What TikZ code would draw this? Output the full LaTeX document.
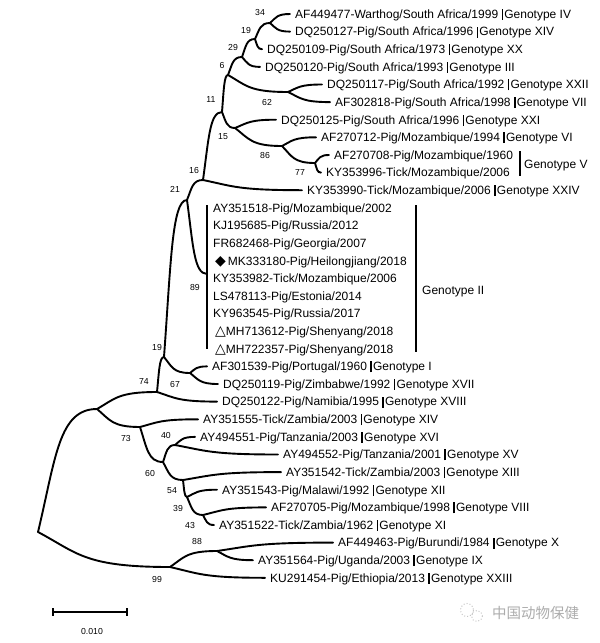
\documentclass[tikz,border=0pt]{standalone}
\usepackage{fontspec}
\setmainfont{Liberation Sans}
\newfontfamily\symf{DejaVu Sans}
\newfontfamily\cjk{Noto Sans CJK SC}
\usetikzlibrary{calc}
\newcommand\gb{\rule[-1.6pt]{1.6pt}{11pt}\hspace{1.2pt}}
\begin{document}
\begin{tikzpicture}[x=1pt,y=-1pt,
  br/.style={line width=1.9pt, line cap=round},
  cv/.style={to path={let \p1=(\tikztostart),\p2=(\tikztotarget) in .. controls ({\x1+0.3*(\x2-\x1)},{\y1+0.6*(\y2-\y1)}) and ({\x1+0.35*(\x2-\x1)},\y2) .. (\tikztotarget)}},
  lab/.style={anchor=west, inner xsep=5pt, inner ysep=0pt, text height=8.6pt, text depth=0pt, font=\fontsize{12}{14}\selectfont},
  cl/.style={lab, inner xsep=0pt},
  bs/.style={font=\fontsize{8.7}{10}\selectfont, inner sep=0pt},
  bar/.style={line width=1.8pt}
]
\useasboundingbox (0,0) rectangle (600,643);

% tip labels
\node[lab] (t1) at (290,14) {AF449477-Warthog/South Africa/1999 \gb Genotype IV};
\node[lab] (t2) at (290,31.6) {DQ250127-Pig/South Africa/1996 \gb Genotype XIV};
\node[lab] (t3) at (262,49.2) {DQ250109-Pig/South Africa/1973 \gb Genotype XX};
\node[lab] (t4) at (260,66.9) {DQ250120-Pig/South Africa/1993 \gb Genotype III};
\node[lab] (t5) at (322,84.5) {DQ250117-Pig/South Africa/1992 \gb Genotype XXII};
\node[lab] (t6) at (330,102.1) {AF302818-Pig/South Africa/1998 \gb Genotype VII};
\node[lab] (t7) at (276,119.7) {DQ250125-Pig/South Africa/1996 \gb Genotype XXI};
\node[lab] (t8) at (316,137.3) {AF270712-Pig/Mozambique/1994 \gb Genotype VI};
\node[lab] (t9) at (329,155) {AF270708-Pig/Mozambique/1960};
\node[lab] (t10) at (321,172.6) {KY353996-Tick/Mozambique/2006};
\node[lab] (t11) at (302,190.2) {KY353990-Tick/Mozambique/2006 \gb Genotype XXIV};
\node[cl] (t12) at (213,207.8) {AY351518-Pig/Mozambique/2002};
\node[cl] (t13) at (213,225.4) {KJ195685-Pig/Russia/2012};
\node[cl] (t14) at (213,243.1) {FR682468-Pig/Georgia/2007};
\node[cl] (t15) at (215,260.7) {{\symf\fontsize{14}{14}\selectfont ◆}\hspace{2pt}MK333180-Pig/Heilongjiang/2018};
\node[cl] (t16) at (213,278.3) {KY353982-Tick/Mozambique/2006};
\node[cl] (t17) at (213,295.9) {LS478113-Pig/Estonia/2014};
\node[cl] (t18) at (213,313.5) {KY963545-Pig/Russia/2017};
\node[cl] (t19) at (215,331.2) {{\symf\fontsize{14}{14}\selectfont △}MH713612-Pig/Shenyang/2018};
\node[cl] (t20) at (215,348.8) {{\symf\fontsize{14}{14}\selectfont △}MH722357-Pig/Shenyang/2018};
\node[lab] (t21) at (207,366.4) {AF301539-Pig/Portugal/1960 \gb Genotype I};
\node[lab] (t22) at (218,384) {DQ250119-Pig/Zimbabwe/1992 \gb Genotype XVII};
\node[lab] (t23) at (217,401.6) {DQ250122-Pig/Namibia/1995 \gb Genotype XVIII};
\node[lab] (t24) at (198,419.3) {AY351555-Tick/Zambia/2003 \gb Genotype XIV};
\node[lab] (t25) at (195,436.9) {AY494551-Pig/Tanzania/2003 \gb Genotype XVI};
\node[lab] (t26) at (278,454.5) {AY494552-Pig/Tanzania/2001 \gb Genotype XV};
\node[lab] (t27) at (281,472.1) {AY351542-Tick/Zambia/2003 \gb Genotype XIII};
\node[lab] (t28) at (217,489.7) {AY351543-Pig/Malawi/1992 \gb Genotype XII};
\node[lab] (t29) at (266,507.4) {AF270705-Pig/Mozambique/1998 \gb Genotype VIII};
\node[lab] (t30) at (214,525) {AY351522-Tick/Zambia/1962 \gb Genotype XI};
\node[lab] (t31) at (333,542.6) {AF449463-Pig/Burundi/1984 \gb Genotype X};
\node[lab] (t32) at (253,560.2) {AY351564-Pig/Uganda/2003 \gb Genotype IX};
\node[lab] (t33) at (265,577.8) {KU291454-Pig/Ethiopia/2013 \gb Genotype XXIII};

% group bars
\draw[bar] (520,151) -- (520,176);
\node[cl] (gV) at (524,164) {Genotype V};
\coordinate (c2a) at (207,205);
\coordinate (c2b) at (207,349);
\draw[bar] (c2a) -- (c2b);
\coordinate (c2) at (207,274);
\draw[bar] (416,205) -- (416,352);
\node[cl] (gII) at (422,290) {Genotype II};

% internal nodes
\coordinate (A) at (270,23);
\coordinate (B) at (255,39);
\coordinate (C) at (242,57);
\coordinate (D) at (228,75);
\coordinate (E) at (288,92);
\coordinate (F) at (222,112);
\coordinate (G) at (235,128);
\coordinate (H) at (282,146);
\coordinate (I) at (315,163);
\coordinate (J) at (203,180);
\coordinate (K) at (187,200);
\coordinate (M) at (164,357);
\coordinate (N) at (190,373);
\coordinate (O) at (157,392);
\coordinate (P) at (97,409);
\coordinate (Q) at (140,427);
\coordinate (R) at (163,462);
\coordinate (S) at (175,445);
\coordinate (T) at (183,480);
\coordinate (U) at (187,497);
\coordinate (V) at (203,515);
\coordinate (X) at (38,532);
\coordinate (Y) at (170,567);
\coordinate (Z) at (217,551);

% branches
\draw[br] (A) to[cv] (t1.west);
\draw[br] (A) to[cv] (t2.west);
\draw[br] (B) to[cv] (A);
\draw[br] (B) to[cv] (t3.west);
\draw[br] (C) to[cv] (B);
\draw[br] (C) to[cv] (t4.west);
\draw[br] (D) to[cv] (C);
\draw[br] (D) to[cv] (E);
\draw[br] (E) to[cv] (t5.west);
\draw[br] (E) to[cv] (t6.west);
\draw[br] (F) to[cv] (D);
\draw[br] (F) to[cv] (G);
\draw[br] (G) to[cv] (t7.west);
\draw[br] (G) to[cv] (H);
\draw[br] (H) to[cv] (t8.west);
\draw[br] (H) to[cv] (I);
\draw[br] (I) to[cv] (t9.west);
\draw[br] (I) to[cv] (t10.west);
\draw[br] (J) to[cv] (F);
\draw[br] (J) to[cv] (t11.west);
\draw[br] (K) to[cv] (J);
\draw[br] (K) to[cv] (c2);
\draw[br] (M) to[cv] (K);
\draw[br] (M) to[cv] (N);
\draw[br] (N) to[cv] (t21.west);
\draw[br] (N) to[cv] (t22.west);
\draw[br] (O) to[cv] (M);
\draw[br] (O) to[cv] (t23.west);
\draw[br] (P) to[cv] (O);
\draw[br] (P) to[cv] (Q);
\draw[br] (Q) to[cv] (t24.west);
\draw[br] (Q) to[cv] (R);
\draw[br] (R) to[cv] (S);
\draw[br] (R) to[cv] (T);
\draw[br] (S) to[cv] (t25.west);
\draw[br] (S) to[cv] (t26.west);
\draw[br] (T) to[cv] (t27.west);
\draw[br] (T) to[cv] (U);
\draw[br] (U) to[cv] (t28.west);
\draw[br] (U) to[cv] (V);
\draw[br] (V) to[cv] (t29.west);
\draw[br] (V) to[cv] (t30.west);
\draw[br] (X) to[cv] (P);
\draw[br] (X) to[cv] (Y);
\draw[br] (Y) to[cv] (Z);
\draw[br] (Y) to[cv] (t33.west);
\draw[br] (Z) to[cv] (t31.west);
\draw[br] (Z) to[cv] (t32.west);

% bootstrap values
\node[bs] (b1) at (260,13) {34};
\node[bs] (b2) at (246,31) {19};
\node[bs] (b3) at (233,48) {29};
\node[bs] (b4) at (222,66) {6};
\node[bs] (b5) at (267,103) {62};
\node[bs] (b6) at (211,100) {11};
\node[bs] (b7) at (223,137) {15};
\node[bs] (b8) at (265,156) {86};
\node[bs] (b9) at (300,173) {77};
\node[bs] (b10) at (194,171) {16};
\node[bs] (b11) at (175,189) {21};
\node[bs] (b12) at (195,288) {89};
\node[bs] (b13) at (157,347) {19};
\node[bs] (b14) at (144,382) {74};
\node[bs] (b15) at (175,384) {67};
\node[bs] (b16) at (126,438) {73};
\node[bs] (b17) at (166,435) {40};
\node[bs] (b18) at (150,473) {60};
\node[bs] (b19) at (172,491) {54};
\node[bs] (b20) at (178,508) {39};
\node[bs] (b21) at (190,525) {43};
\node[bs] (b22) at (197,541) {88};
\node[bs] (b23) at (157,579) {99};

% scale bar
\coordinate (s1) at (53,612);
\coordinate (s2) at (127,612);
\draw[line width=1.1pt] (s1) -- (s2);
\draw[line width=1.1pt] ($(s1)+(0,-4)$) -- ($(s1)+(0,4)$);
\draw[line width=1.1pt] ($(s2)+(0,-4)$) -- ($(s2)+(0,4)$);
\node[bs] (sl) at (92,631) {0.010};

% watermark
\draw[gray!45, dotted, line width=1pt] (467,610) circle (6.5);
\draw[gray!45, dotted, line width=1pt] (477,616) circle (5.5);
\node[anchor=west, inner sep=0pt, text=gray!65, font=\cjk\fontsize{14.5}{16}\selectfont] (wm) at (492,613) {中国动物保健};
\end{tikzpicture}
\end{document}
